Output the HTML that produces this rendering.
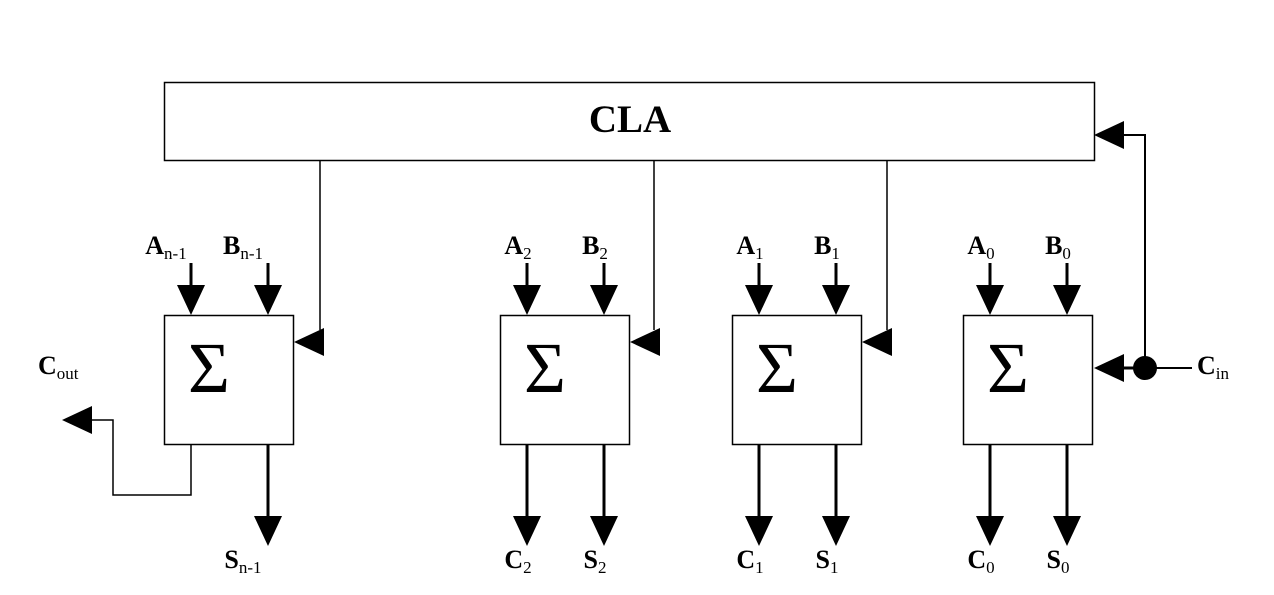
<!DOCTYPE html>
<html><head><meta charset="utf-8"><style>
body{margin:0;background:#fff}
svg text{font-family:"Liberation Serif",serif;fill:#000}
.lb{font-weight:bold;font-size:26px}
.sub{font-size:17px;font-weight:normal}
</style></head><body>
<svg width="1274" height="590" viewBox="0 0 1274 590" xmlns="http://www.w3.org/2000/svg">
<g stroke="#000" stroke-width="1.5" fill="none">
<rect x="164.5" y="82.5" width="930" height="78" fill="#fff"/>
</g>
<text x="630" y="132" text-anchor="middle" font-weight="bold" font-size="39">CLA</text>
<g id="blocks"></g>
<script>
const blockLefts=[164,500,732,963];
const aLabels=[["A","n-1"],["A","2"],["A","1"],["A","0"]];
const bLabels=[["B","n-1"],["B","2"],["B","1"],["B","0"]];
const cLabels=[null,["C","2"],["C","1"],["C","0"]];
const sLabels=[["S","n-1"],["S","2"],["S","1"],["S","0"]];
const claTaps=[320,654,887,null];
const NS="http://www.w3.org/2000/svg";
const g=document.getElementById('blocks');
function el(t,a,p){const e=document.createElementNS(NS,t);for(const k in a)e.setAttribute(k,a[k]);(p||g).appendChild(e);return e;}
function label(x,y,l,name){const off=l[1].length>1?-25:-9;const t=el('text',{x:x+off,y:y,'class':'lb','text-anchor':'middle'});


t.appendChild(document.createTextNode(l[0]));const s=el('tspan',{'class':'sub',dy:5},t);s.textContent=l[1];}
function down(x,y1,y2,name){const gg=el('g',{});


el('line',{x1:x,y1:y1,x2:x,y2:y2-30,stroke:'#000','stroke-width':3},gg);
el('polygon',{points:`${x-14},${y2-30} ${x+14},${y2-30} ${x},${y2}`,fill:'#000'},gg);}
function left(x,y,name){const p=el('polygon',{points:`${x},${y} ${x+30},${y-14} ${x+30},${y+14}`,fill:'#000'});

}
blockLefts.forEach((L,i)=>{
 const r=el('rect',{x:L+0.5,y:315.5,width:129,height:129,fill:'#fff',stroke:'#000','stroke-width':1.5});
 
 
 const sg=el('text',{x:L+45,y:392,'font-size':72,'text-anchor':'middle'});sg.textContent='Σ';
 
 
 label(L+27,254,aLabels[i],'input-a-label');label(L+104,254,bLabels[i],'input-b-label');
 down(L+27,263,315,'input-a-arrow');down(L+104,263,315,'input-b-arrow');
 down(L+104,444,546,'sum-arrow');label(L+104,568,sLabels[i],'sum-label');
 if(cLabels[i]){down(L+27,444,546,'carry-out-arrow');label(L+27,568,cLabels[i],'carry-label');}
 if(claTaps[i]){el('line',{x1:claTaps[i],y1:160,x2:claTaps[i],y2:330,stroke:'#000','stroke-width':1.5});left(L+130,342,'cla-carry-arrow');}
});
el('polyline',{points:'191,444 191,495 113,495 113,420 90,420',fill:'none',stroke:'#000','stroke-width':1.5});
left(62,420,'cout-arrow');
const co=el('text',{x:38,y:374,'class':'lb'});


co.appendChild(document.createTextNode('C'));el('tspan',{'class':'sub',dy:5},co).textContent='out';
el('polyline',{points:'1192,368 1145,368 1145,135 1120,135',fill:'none',stroke:'#000','stroke-width':2});
el('line',{x1:1145,y1:368,x2:1120,y2:368,stroke:'#000','stroke-width':3});
left(1094,368,'cin-arrow');left(1094,135,'cla-cin-arrow');
const dot=el('circle',{cx:1145,cy:368,r:12,fill:'#000'});


const ci=el('text',{x:1197,y:374,'class':'lb'});


ci.appendChild(document.createTextNode('C'));el('tspan',{'class':'sub',dy:5},ci).textContent='in';
</script>
</svg>
</body></html>
